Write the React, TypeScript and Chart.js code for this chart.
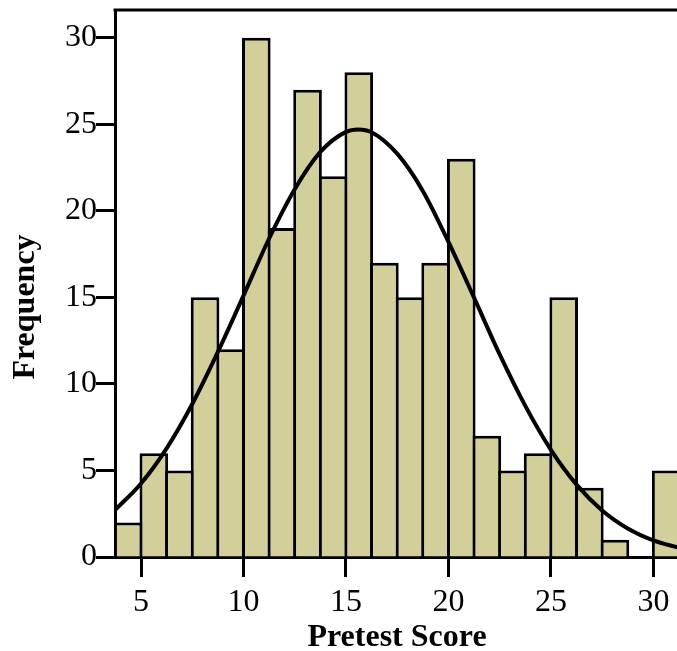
import React, { useEffect, useRef } from "react";
import { Chart, registerables } from "chart.js";

Chart.register(...registerables);

// Histogram bins (centers of 1.25-wide bins) and frequencies
const binCenters = [4.375, 5.625, 6.875, 8.125, 9.375, 10.625, 11.875, 13.125, 14.375, 15.625, 16.875, 18.125, 19.375, 20.625, 21.875, 23.125, 24.375, 25.625, 26.875, 28.125, 29.375, 30.625];
const frequencies = [2, 6, 5, 15, 12, 30, 19, 27, 22, 28, 17, 15, 17, 23, 7, 5, 6, 15, 4, 1, 0, 5];

// Fitted normal curve
const curveX = [3.75, 5, 6.25, 7.5, 8.75, 10, 11.25, 12.5, 13.75, 15, 15.6, 16.25, 17.5, 18.75, 20, 21.25, 22.5, 23.75, 25, 26.25, 27.5, 28.75, 30, 31.25];
const curveY = [2.74, 4.25, 6.28, 8.84, 11.85, 15.1, 18.4, 21.25, 23.4, 24.56, 24.7, 24.54, 23.3, 21.15, 18.2, 14.98, 11.7, 8.73, 6.19, 4.18, 2.69, 1.65, 0.96, 0.53];

const xTicks = [5, 10, 15, 20, 25, 30];
const yTicks = [0, 5, 10, 15, 20, 25, 30];

const xTitle = "Pretest Score";
const yTitle = "Frequency";

const FONT = "'Liberation Serif', 'Times New Roman', serif";

export default function App() {
  const ref = useRef<HTMLCanvasElement | null>(null);

  useEffect(() => {
    if (!ref.current) return;
    const topBorder = {
      id: "topBorder",
      afterDatasetsDraw(chart: any) {
        const { ctx, chartArea } = chart;
        ctx.save();
        ctx.strokeStyle = "#000";
        ctx.lineWidth = 3;
        ctx.beginPath();
        ctx.moveTo(chartArea.left - 1.5, chartArea.top);
        ctx.lineTo(chartArea.right + 2, chartArea.top);
        ctx.stroke();
        ctx.restore();
      },
    };
    const yTitlePlugin = {
      id: "yTitle",
      afterDraw(chart: any) {
        const { ctx } = chart;
        ctx.save();
        ctx.translate(34, 307);
        ctx.rotate(-Math.PI / 2);
        ctx.font = `bold 32px ${FONT}`;
        ctx.fillStyle = "#000";
        ctx.textAlign = "center";
        ctx.textBaseline = "alphabetic";
        ctx.fillText(yTitle, 0, 0);
        ctx.restore();
      },
    };

    const chart = new Chart(ref.current, {
      type: "bar",
      data: {
        datasets: [
          {
            type: "line",
            data: curveX.map((x, i) => ({ x, y: curveY[i] })),
            borderColor: "#000",
            borderWidth: 4,
            pointRadius: 0,
            cubicInterpolationMode: "monotone",
            fill: false,
            order: 0,
          } as any,
          {
            type: "bar",
            data: binCenters.map((x, i) => ({ x, y: frequencies[i] })),
            backgroundColor: "#d3cf9b",
            borderColor: "#000",
            borderWidth: 3,
            borderSkipped: "start",
            barPercentage: 1.117,
            categoryPercentage: 1,
            grouped: false,
            order: 1,
          } as any,
        ],
      },
      options: {
        responsive: false,
        devicePixelRatio: 1,
        animation: false,
        layout: { padding: { top: 10, left: 0, right: 0, bottom: 0 } },
        plugins: {
          legend: { display: false },
          tooltip: { enabled: false },
        },
        scales: {
          x: {
            type: "linear",
            min: 3.73,
            max: 31.25,
            offset: false,
            afterBuildTicks: (s: any) => {
              s.ticks = xTicks.map((v) => ({ value: v }));
            },
            afterFit: (s: any) => {
              s.height = 94;
              s.paddingLeft = 0;
              s.paddingRight = 0;
            },
            ticks: {
              autoSkip: false,
              maxRotation: 0,
              padding: 6,
              color: "#000",
              font: { family: FONT, size: 32 },
            },
            grid: {
              offset: false,
              drawOnChartArea: false,
              drawTicks: true,
              tickLength: 20,
              tickWidth: 3,
              tickColor: "#000",
            },
            border: { display: true, color: "#000", width: 3 },
            title: {
              display: true,
              text: xTitle,
              color: "#000",
              font: { family: FONT, size: 32, weight: "bold" },
              padding: { top: -6, bottom: -6 },
            },
          },
          y: {
            type: "linear",
            min: 0,
            max: 31.6,
            afterBuildTicks: (s: any) => {
              s.ticks = yTicks.map((v) => ({ value: v }));
            },
            afterFit: (s: any) => {
              s.width = 115;
              s.paddingTop = 0;
              s.paddingBottom = 0;
            },
            ticks: {
              autoSkip: false,
              padding: -1,
              color: "#000",
              font: { family: FONT, size: 32 },
            },
            grid: {
              offset: false,
              drawOnChartArea: false,
              drawTicks: true,
              tickLength: 19,
              tickWidth: 3,
              tickColor: "#000",
            },
            border: { display: true, color: "#000", width: 3 },
          },
        },
      },
      plugins: [topBorder, yTitlePlugin],
    });
    return () => chart.destroy();
  }, []);

  return (
    <div style={{ position: "absolute", left: 0, top: 0, width: 677, height: 651, overflow: "hidden", background: "#fff" }}>
      <canvas ref={ref} width={679} height={651} style={{ display: "block" }} />
    </div>
  );
}
